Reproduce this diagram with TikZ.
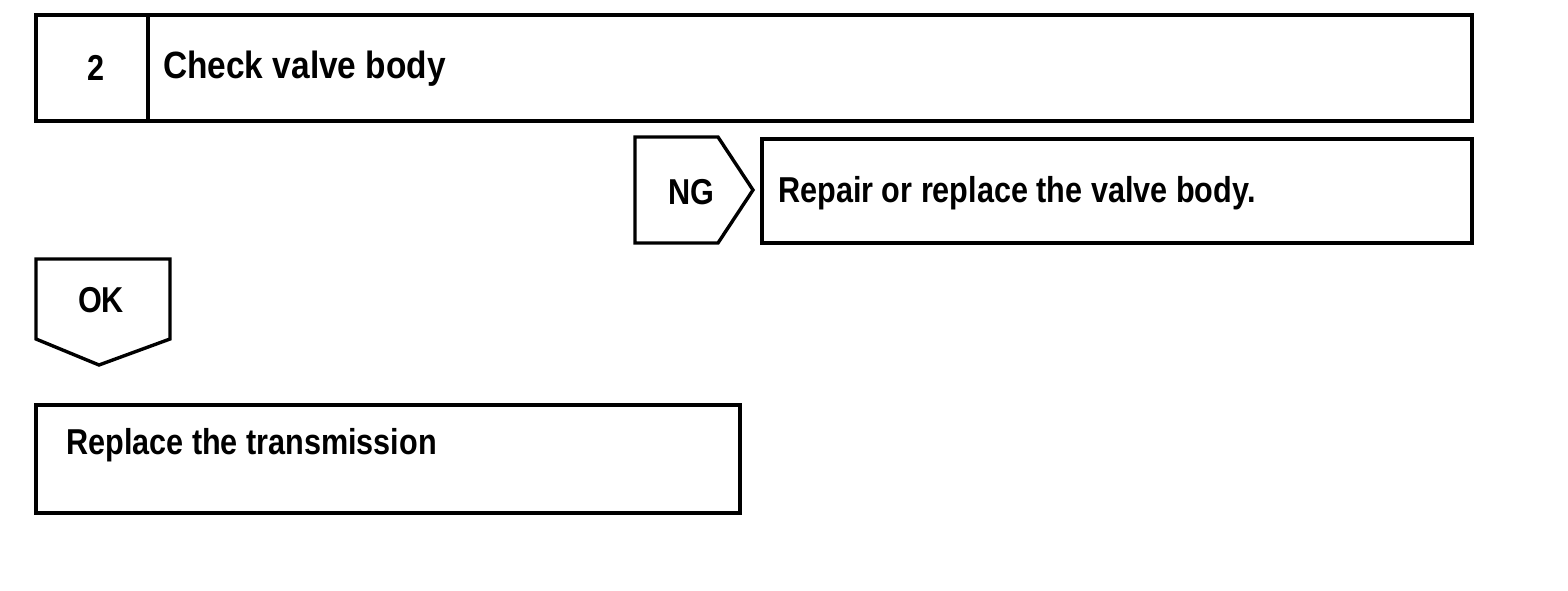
\documentclass[tikz,border=0pt]{standalone}
\usepackage{fontspec}
\setmainfont{Liberation Sans}
\newfontfamily\bodyfont[FakeStretch=0.85]{Liberation Sans}
\newfontfamily\headfont[FakeStretch=0.88]{Liberation Sans}
\usetikzlibrary{positioning}

\begin{document}
\begin{tikzpicture}[
  x=1pt, y=1pt,
  font=\bodyfont\fontsize{36}{40}\selectfont\bfseries,
  box/.style={draw=black, line width=3.4pt, minimum height=106pt, inner sep=0pt},
  tag/.style={draw=black, line width=3.4pt, line join=miter},
  txt/.style={inner sep=0pt, anchor=west},
]
\useasboundingbox (0,0) rectangle (1568,590);

% ---- step header ----
\node[box, minimum width=112pt]  (num)   at (92,522)  {};
\node[box, minimum width=1324pt] (title) at (810,522) {};
\node (numtxt) at (96,522) {2};
\node[txt, font=\headfont\fontsize{38}{42}\selectfont\bfseries] (titletxt) at (163,521) {Check valve body};

% ---- NG branch ----
\coordinate (ngtl) at (635,453);
\coordinate (ngtip) at (753,400);
\draw[tag] (ngtl) -- (718,453) -- (ngtip) -- (718,347) -- (635,347) -- cycle;
\node (ng) at (691,398) {NG};
\node[box, minimum width=710pt, minimum height=104pt] (repair) at (1117,399) {};
\node[txt] (repairtxt) at (778,397) {Repair or replace the valve body.};

% ---- OK branch ----
\coordinate (oktl) at (36,331);
\coordinate (oktip) at (99,225);
\draw[tag] (oktl) -- (170,331) -- (170,251) -- (oktip) -- (36,251) -- cycle;
\node (ok) at (101,290) {OK};
\node[box, minimum width=704pt, minimum height=108pt] (replace) at (388,131) {};
\node[txt] (replacetxt) at (66,145) {Replace the transmission};

\end{tikzpicture}
\end{document}
